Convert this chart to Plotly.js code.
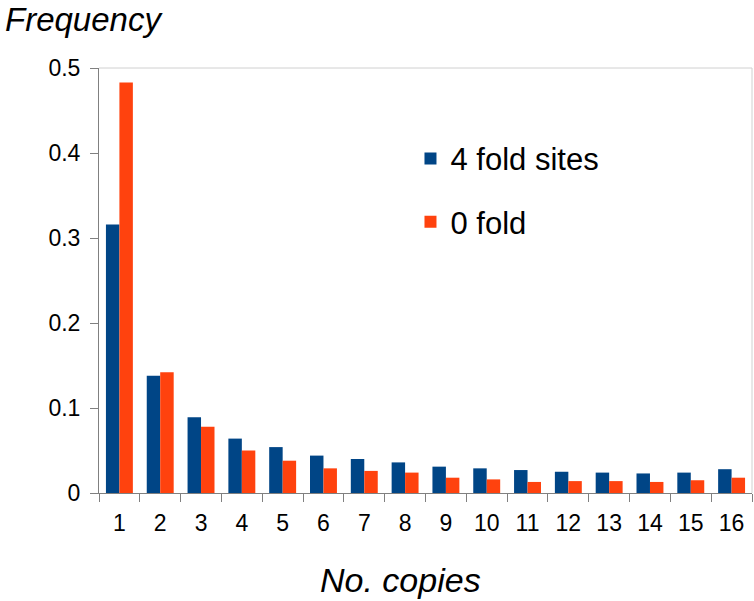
<!DOCTYPE html>
<html>
<head>
<meta charset="utf-8">
<script src="https://cdn.plot.ly/plotly-3.0.1.min.js"></script>
<style>
  html, body { margin: 0; padding: 0; background: #fff; }
  #chart { width: 754px; height: 601px; }
</style>
</head>
<body>
<div id="chart"></div>
<script>
// copy number categories
const copies = ['1', '2', '3', '4', '5', '6', '7', '8', '9', '10', '11', '12', '13', '14', '15', '16'];

// frequencies
const fourFold = [0.316, 0.138, 0.089, 0.064, 0.054, 0.044, 0.040, 0.036, 0.031, 0.029, 0.027, 0.025, 0.024, 0.023, 0.024, 0.028];
const zeroFold = [0.483, 0.142, 0.078, 0.050, 0.038, 0.029, 0.026, 0.024, 0.018, 0.016, 0.013, 0.014, 0.014, 0.013, 0.015, 0.018];

const font = 'Liberation Sans, Arial, sans-serif';

const traces = [
    {
        type: 'bar',
        name: '4 fold sites',
        x: copies,
        y: fourFold,
        legendgroup: 'a',
        marker: { color: '#004586' }
    },
    {
        type: 'bar',
        name: '0 fold',
        x: copies,
        y: zeroFold,
        legendgroup: 'b',
        marker: { color: '#ff420e' }
    }
];

const layout = {
    width: 754,
    height: 601,
    margin: { l: 99, r: 2, t: 68, b: 108 },
    paper_bgcolor: '#fff',
    plot_bgcolor: '#fff',
    font: { family: font, size: 23, color: '#000' },
    barmode: 'group',
    bargap: 0.34,
    bargroupgap: 0,
    showlegend: true,
    legend: {
        x: 0.477, y: 0.85,
        xanchor: 'left', yanchor: 'top',
        font: { family: font, size: 31, color: '#000' },
        tracegroupgap: 20,
        traceorder: 'grouped',
        bgcolor: 'rgba(0,0,0,0)'
    },
    xaxis: {
        type: 'category',
        tickson: 'boundaries',
        ticks: 'outside',
        ticklen: 8,
        tickcolor: '#808080',
        showline: true,
        linecolor: '#808080',
        linewidth: 1,
        showgrid: false,
        ticklabelstandoff: 9,
        tickfont: { size: 23 }
    },
    yaxis: {
        range: [0, 0.5],
        dtick: 0.1,
        ticks: 'outside',
        ticklen: 8,
        tickcolor: '#808080',
        showline: true,
        linecolor: '#808080',
        linewidth: 1,
        showgrid: false,
        zeroline: false,
        ticklabelstandoff: 5,
        tickfont: { size: 23 }
    },
    shapes: [
        // light frame on top and right
        { type: 'line', xref: 'paper', yref: 'paper', x0: 0, x1: 1, y0: 1, y1: 1, line: { color: '#d0d0d0', width: 1 } },
        { type: 'line', xref: 'paper', yref: 'paper', x0: 1, x1: 1, y0: 0, y1: 1, line: { color: '#d0d0d0', width: 1 } }
    ],
    annotations: [
        {
            text: '<i>Frequency</i>',
            xref: 'paper', yref: 'paper',
            x: -0.146, y: 1.16,
            xanchor: 'left', yanchor: 'top',
            borderpad: 0,
            showarrow: false,
            font: { family: font, size: 33, color: '#000' }
        },
        {
            text: '<i>No. copies</i>',
            xref: 'paper', yref: 'paper',
            x: 0.461, y: -0.205,
            xanchor: 'center', yanchor: 'middle',
            showarrow: false,
            font: { family: font, size: 34, color: '#000' }
        }
    ]
};

Plotly.newPlot('chart', traces, layout, { displayModeBar: false });
</script>
</body>
</html>
